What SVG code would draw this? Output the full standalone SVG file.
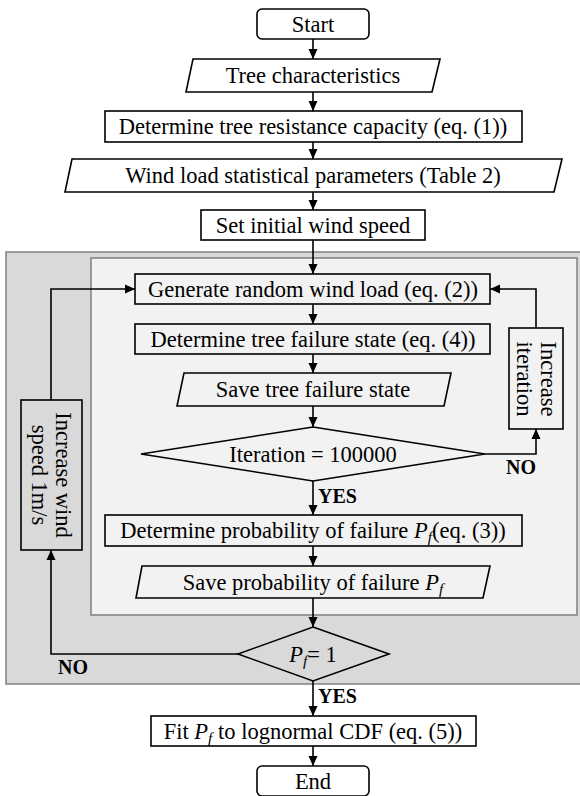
<svg xmlns="http://www.w3.org/2000/svg" width="580" height="796" viewBox="0 0 580 796">
<defs>
<marker id="ah" markerUnits="userSpaceOnUse" markerWidth="10" markerHeight="10" viewBox="0 0 10 10" refX="10" refY="5" orient="auto">
<path d="M0,0.5 L10,5 L0,9.5 Z" fill="#000"/>
</marker>
<style>
.n{fill:none;stroke:#000;stroke-width:1.6}
.t{font-family:"Liberation Serif","Times New Roman",serif;font-size:22.5px;fill:#000;text-anchor:middle}
.b{font-family:"Liberation Serif","Times New Roman",serif;font-size:20px;font-weight:bold;fill:#000}
.c{fill:none;stroke:#000;stroke-width:1.6}
.i{font-style:italic}
</style>
</defs>
<rect x="6" y="252" width="580" height="432" fill="#d9d9d9" stroke="#808080" stroke-width="1.5"/>
<rect x="91" y="258" width="486" height="357" fill="#f2f2f2" stroke="#808080" stroke-width="1.5"/>

<g id="connectors">
<path class="c" d="M313,39 V59" marker-end="url(#ah)"/>
<path class="c" d="M313,92 V111" marker-end="url(#ah)"/>
<path class="c" d="M313,142 V159" marker-end="url(#ah)"/>
<path class="c" d="M313,192 V210" marker-end="url(#ah)"/>
<path class="c" d="M313,240 V274" marker-end="url(#ah)"/>
<path class="c" d="M313,304 V324" marker-end="url(#ah)"/>
<path class="c" d="M313,354 V373" marker-end="url(#ah)"/>
<path class="c" d="M313,406 V427" marker-end="url(#ah)"/>
<path class="c" d="M313,481 V515" marker-end="url(#ah)"/>
<path class="c" d="M313,546 V566" marker-end="url(#ah)"/>
<path class="c" d="M313,598 V627" marker-end="url(#ah)"/>
<path class="c" d="M313,681 V716" marker-end="url(#ah)"/>
<path class="c" d="M313,746 V766" marker-end="url(#ah)"/>
<path class="c" d="M485,454 H536 V429" marker-end="url(#ah)"/>
<path class="c" d="M536,328 V289 H490" marker-end="url(#ah)"/>
<path class="c" d="M238,654 H51 V550" marker-end="url(#ah)"/>
<path class="c" d="M51,400 V289 H135" marker-end="url(#ah)"/>
<text class="b" x="506" y="474">NO</text>
<text class="b" x="318" y="503">YES</text>
<text class="b" x="58" y="674">NO</text>
<text class="b" x="318" y="703">YES</text>
</g>

<g id="start">
<rect class="n" x="257" y="9" width="112" height="30" rx="5"/>
<text class="t" x="313" y="31.5">Start</text>
</g>
<g id="tree-characteristics">
<path class="n" d="M193,59 H440 L432,92 H186 Z"/>
<text class="t" x="313" y="83">Tree characteristics</text>
</g>
<g id="resistance">
<rect class="n" x="105" y="111" width="417" height="31"/>
<text class="t" x="313" y="134">Determine tree resistance capacity (eq. (1))</text>
</g>
<g id="wind-params">
<path class="n" d="M72,159 H562 L554,192 H65 Z"/>
<text class="t" x="313" y="183">Wind load statistical parameters (Table 2)</text>
</g>
<g id="initial-speed">
<rect class="n" x="201" y="210" width="224" height="30"/>
<text class="t" x="313" y="232.5">Set initial wind speed</text>
</g>
<g id="generate-load">
<rect class="n" x="135" y="274" width="355" height="30"/>
<text class="t" x="313" y="296.5">Generate random wind load (eq. (2))</text>
</g>
<g id="failure-state">
<rect class="n" x="135" y="324" width="355" height="30"/>
<text class="t" x="313" y="346.5">Determine tree failure state (eq. (4))</text>
</g>
<g id="save-state">
<path class="n" d="M184,373 H451 L444,406 H177 Z"/>
<text class="t" x="313" y="397">Save tree failure state</text>
</g>
<g id="iteration-check">
<path class="n" d="M313,427 L485,454 L313,481 L141,454 Z"/>
<text class="t" x="313" y="461.5">Iteration = 100000</text>
</g>
<g id="increase-iteration">
<rect class="n" x="509" y="328" width="54" height="101"/>
<g transform="translate(536,379) rotate(90)">
<text class="t" x="0" y="-5">Increase</text>
<text class="t" x="0" y="19">iteration</text>
</g>
</g>
<g id="probability">
<rect class="n" x="105" y="515" width="417" height="31"/>
<text class="t" x="313" y="538">Determine probability of failure <tspan class="i">P</tspan><tspan class="i" font-size="15.5" dy="4">f</tspan><tspan dy="-4">(eq. (3))</tspan></text>
</g>
<g id="save-probability">
<path class="n" d="M142,566 H490 L483,598 H136 Z"/>
<text class="t" x="313" y="589.5">Save probability of failure <tspan class="i">P</tspan><tspan class="i" font-size="15.5" dy="4">f</tspan></text>
</g>
<g id="increase-speed">
<rect class="n" x="21" y="400" width="61" height="150"/>
<g transform="translate(51,475) rotate(90)">
<text class="t" x="0" y="-4.5">Increase wind</text>
<text class="t" x="0" y="19">speed 1m/s</text>
</g>
</g>
<g id="pf-check">
<path class="n" d="M313,627 L389,654 L313,681 L238,654 Z"/>
<text class="t" x="313" y="661.5"><tspan class="i">P</tspan><tspan class="i" font-size="15.5" dy="4">f</tspan><tspan dy="-4">= 1</tspan></text>
</g>
<g id="fit">
<rect class="n" x="151" y="716" width="325" height="30"/>
<text class="t" x="313" y="738.5">Fit <tspan class="i">P</tspan><tspan class="i" font-size="15.5" dy="4">f</tspan><tspan dy="-4"> to lognormal CDF (eq. (5))</tspan></text>
</g>
<g id="end">
<rect class="n" x="257" y="766" width="112" height="30" rx="5"/>
<text class="t" x="313" y="788.5">End</text>
</g>
</svg>
